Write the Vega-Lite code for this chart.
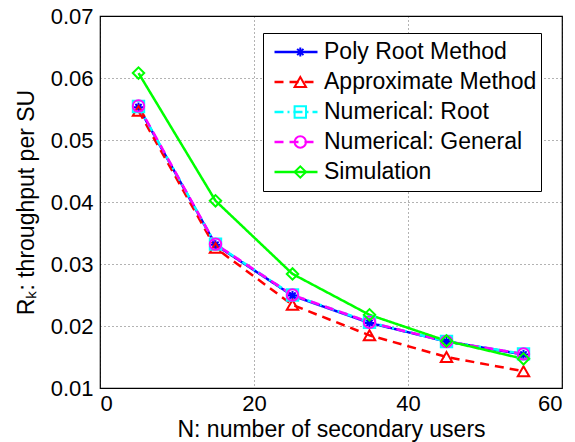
{
  "$schema": "https://vega.github.io/schema/vega-lite/v6.json",
  "width": 462,
  "height": 372,
  "autosize": {"type": "none"},
  "padding": {"left": 100, "top": 16, "right": 13, "bottom": 54},
  "background": "white",
  "config": {
    "font": "Liberation Sans",
    "view": {"stroke": "black", "strokeWidth": 1.2},
    "axis": {
      "domain": false,
      "ticks": false,
      "grid": true,
      "gridColor": "#000000",
      "gridOpacity": 0.6,
      "gridDash": [1, 3],
      "gridWidth": 1,
      "labelFont": "Liberation Sans",
      "labelFontSize": 22,
      "labelColor": "#000000",
      "titleFont": "Liberation Sans",
      "titleFontSize": 23,
      "titleFontWeight": "normal",
      "titleColor": "#000000"
    }
  },
  "data": {
    "values": [
      {"N": 5, "value": 0.0553, "series": "Poly Root Method"},
      {"N": 15, "value": 0.0331, "series": "Poly Root Method"},
      {"N": 25, "value": 0.0249, "series": "Poly Root Method"},
      {"N": 35, "value": 0.0205, "series": "Poly Root Method"},
      {"N": 45, "value": 0.0175, "series": "Poly Root Method"},
      {"N": 55, "value": 0.0154, "series": "Poly Root Method"},
      {"N": 5, "value": 0.0547, "series": "Approximate Method"},
      {"N": 15, "value": 0.0326, "series": "Approximate Method"},
      {"N": 25, "value": 0.0234, "series": "Approximate Method"},
      {"N": 35, "value": 0.0185, "series": "Approximate Method"},
      {"N": 45, "value": 0.0150, "series": "Approximate Method"},
      {"N": 55, "value": 0.0127, "series": "Approximate Method"},
      {"N": 5, "value": 0.0554, "series": "Numerical: Root"},
      {"N": 15, "value": 0.0332, "series": "Numerical: Root"},
      {"N": 25, "value": 0.0250, "series": "Numerical: Root"},
      {"N": 35, "value": 0.0206, "series": "Numerical: Root"},
      {"N": 45, "value": 0.0175, "series": "Numerical: Root"},
      {"N": 55, "value": 0.0155, "series": "Numerical: Root"},
      {"N": 5, "value": 0.0555, "series": "Numerical: General"},
      {"N": 15, "value": 0.0332, "series": "Numerical: General"},
      {"N": 25, "value": 0.0250, "series": "Numerical: General"},
      {"N": 35, "value": 0.0206, "series": "Numerical: General"},
      {"N": 45, "value": 0.0175, "series": "Numerical: General"},
      {"N": 55, "value": 0.0155, "series": "Numerical: General"},
      {"N": 5, "value": 0.0608, "series": "Simulation"},
      {"N": 15, "value": 0.0402, "series": "Simulation"},
      {"N": 25, "value": 0.0284, "series": "Simulation"},
      {"N": 35, "value": 0.0218, "series": "Simulation"},
      {"N": 45, "value": 0.0176, "series": "Simulation"},
      {"N": 55, "value": 0.0147, "series": "Simulation"}
    ]
  },
  "encoding": {
    "x": {
      "field": "N",
      "type": "quantitative",
      "scale": {"domain": [0, 60], "nice": false, "zero": false},
      "axis": {"values": [0, 20, 40, 60], "labelPadding": 5, "title": "N: number of secondary users", "titlePadding": 4}
    },
    "y": {
      "field": "value",
      "type": "quantitative",
      "scale": {"domain": [0.01, 0.07], "nice": false, "zero": false},
      "axis": {"values": [0.01, 0.02, 0.03, 0.04, 0.05, 0.06, 0.07], "format": ".2f", "labelPadding": 7, "title": "Rₖ: throughput per SU", "titlePadding": 12}
    }
  },
  "resolve": {
    "scale": {"color": "independent", "shape": "independent", "strokeDash": "independent"},
    "legend": {"color": "independent", "shape": "independent", "strokeDash": "independent"}
  },
  "layer": [
    {
      "mark": {"type": "line", "strokeWidth": 2.5},
      "encoding": {
        "color": {
          "field": "series",
          "type": "nominal",
          "scale": {
            "domain": ["Poly Root Method", "Approximate Method", "Numerical: Root", "Numerical: General", "Simulation"],
            "range": ["#0000ff", "#ff0000", "#00ffff", "#ff00ff", "#00ff00"]
          },
          "legend": {
            "orient": "none",
            "legendX": 163,
            "legendY": 17,
            "padding": 4,
            "title": null,
            "symbolType": "stroke",
            "symbolSize": 1849,
            "symbolStrokeWidth": 2.5,
            "symbolOffset": 6,
            "labelFont": "Liberation Sans",
            "labelFontSize": 23,
            "labelColor": "#000000",
            "labelOffset": 5,
            "labelLimit": 400,
            "strokeColor": "#000000",
            "fillColor": "#ffffff",
            "clipHeight": 30,
            "rowPadding": 0
          }
        },
        "strokeDash": {
          "field": "series",
          "type": "nominal",
          "scale": {
            "domain": ["Poly Root Method", "Approximate Method", "Numerical: Root", "Numerical: General", "Simulation"],
            "range": [[1, 0], [9, 6], [9, 4, 2, 4], [9, 6], [1, 0]]
          }
        }
      }
    },
    {
      "mark": {"type": "point", "filled": false, "strokeWidth": 2, "size": 130, "opacity": 1},
      "encoding": {
        "color": {
          "field": "series",
          "type": "nominal",
          "scale": {
            "domain": ["Poly Root Method", "Approximate Method", "Numerical: Root", "Numerical: General", "Simulation"],
            "range": ["#0000ff", "#ff0000", "#00ffff", "#ff00ff", "#00ff00"]
          },
          "legend": {
            "orient": "none",
            "legendX": 163,
            "legendY": 17,
            "padding": 4,
            "title": null,
            "symbolSize": 130,
            "symbolStrokeWidth": 2,
            "symbolOffset": 21.8,
            "symbolFillColor": "transparent",
            "labelExpr": "''",
            "labelFontSize": 23,
            "clipHeight": 30,
            "rowPadding": 0
          }
        },
        "shape": {
          "field": "series",
          "type": "nominal",
          "scale": {
            "domain": ["Poly Root Method", "Approximate Method", "Numerical: Root", "Numerical: General", "Simulation"],
            "range": ["M-0.8,0L0.8,0M0,-0.8L0,0.8M-0.55,-0.55L0.55,0.55M-0.55,0.55L0.55,-0.55", "triangle-up", "square", "circle", "diamond"]
          },
          "legend": {
            "orient": "none",
            "legendX": 163,
            "legendY": 17,
            "padding": 4,
            "title": null,
            "symbolSize": 130,
            "symbolStrokeWidth": 2,
            "symbolOffset": 21.8,
            "symbolFillColor": "transparent",
            "labelExpr": "''",
            "labelFontSize": 23,
            "clipHeight": 30,
            "rowPadding": 0
          }
        }
      }
    }
  ]
}
